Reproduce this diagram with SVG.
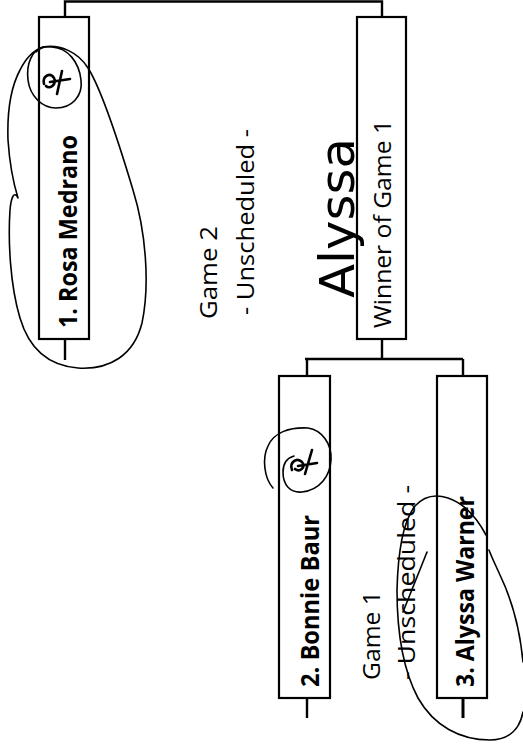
<svg xmlns="http://www.w3.org/2000/svg" width="523" height="746" viewBox="0 0 523 746">
<style>
.box{fill:#fff;stroke:#000;stroke-width:2.2}
.ln{fill:none;stroke:#000;stroke-width:2.4}
.name{font-family:"Open Sans","Liberation Sans",sans-serif;font-weight:bold;font-size:25px;fill:#000}
.reg{font-family:"Open Sans","Liberation Sans",sans-serif;font-weight:normal;font-size:24px;fill:#000}
.lt{font-family:"Open Sans","Liberation Sans",sans-serif;font-weight:normal;font-size:23px;fill:#000}
.hand{font-family:"DejaVu Sans","Liberation Sans",sans-serif;font-weight:normal;font-size:48px;fill:#000}
.ink{fill:none;stroke:#000;stroke-width:1.6;stroke-linecap:round;stroke-linejoin:round}
.inkb{fill:none;stroke:#000;stroke-width:2.6;stroke-linecap:round;stroke-linejoin:round}
</style>
<rect width="523" height="746" fill="#fff"/>
<g id="connectors">
<path class="ln" d="M65,17 V1.5 H382 V17"/>
<path class="ln" d="M65,339 V360"/>
<path class="ln" d="M382,339 V359"/>
<path class="ln" d="M305,359 H463"/>
<path class="ln" d="M307,359 V376"/>
<path class="ln" d="M463,359 V376"/>
<path class="ln" d="M307,698 V718"/>
<path class="ln" d="M463,698 V718" style="stroke-width:3"/>
</g>
<g id="node-rosa">
<rect class="box" x="39" y="17" width="50" height="322"/>
<text class="name" transform="translate(77 328) rotate(-90)" textLength="193" lengthAdjust="spacingAndGlyphs">1. Rosa Medrano</text>
</g>
<g id="node-winner">
<rect class="box" x="357" y="17" width="49" height="322"/>
<text class="reg" transform="translate(391 328) rotate(-90)" textLength="208" lengthAdjust="spacingAndGlyphs">Winner of Game 1</text>
</g>
<g id="node-bonnie">
<rect class="box" x="279" y="376" width="51" height="322"/>
<text class="name" transform="translate(319 687) rotate(-90)" textLength="172" lengthAdjust="spacingAndGlyphs">2. Bonnie Baur</text>
</g>
<g id="node-alyssa">
<rect class="box" x="437" y="376" width="50" height="322"/>
<text class="name" transform="translate(474 687) rotate(-90)" textLength="191" lengthAdjust="spacingAndGlyphs">3. Alyssa Warner</text>
</g>
<g id="game2-label">
<text class="lt" transform="translate(217 319) rotate(-90)" textLength="93" lengthAdjust="spacingAndGlyphs">Game 2</text>
<text class="lt" transform="translate(254 315) rotate(-90)" textLength="186" lengthAdjust="spacingAndGlyphs">- Unscheduled -</text>
</g>
<g id="game1-label">
<text class="lt" transform="translate(380 680) rotate(-90)" textLength="89" lengthAdjust="spacingAndGlyphs">Game 1</text>
<text class="lt" transform="translate(415 680) rotate(-90)" textLength="195" lengthAdjust="spacingAndGlyphs">- Unscheduled -</text>
</g>
<g id="annotations">
<text class="hand" transform="translate(354 298) rotate(-90)" textLength="160" lengthAdjust="spacingAndGlyphs">Alyssa</text>
<path class="ink" d="M43,47 C32,50 26,64 28,80 C30,96 42,108 56,108 C72,108 83,96 81,80 C79,62 68,48 52,47 C46,46 40,48 36,52"/>
<path class="inkb" d="M44,84 C42,76 50,72 54,78 C57,84 50,90 46,86 M50,82 L70,79 M62,71 L57,94"/>
<path class="ink" d="M43,47 C60,44 78,52 88,68 C102,90 118,140 133,190 C146,232 150,285 142,323 C134,355 110,370 78,368 C52,366 30,352 20,318 C10,285 8,240 10,210 C11,198 14,190 18,198 C14,185 10,170 8,140 C7,110 12,85 20,70 C26,58 34,50 43,47"/>
<path class="ink" d="M273,488 C264,478 262,458 268,446 C274,432 290,427 308,428 C322,430 332,444 331,460 C330,476 320,490 302,492 C290,493 283,485 283,472 C283,464 287,458 294,456"/>
<path class="inkb" d="M292,470 C289,462 297,457 302,462 C306,467 300,473 295,469 M298,466 L317,463 M312,450 L305,474"/>
<path class="ink" d="M486,535 C478,520 466,504 448,498 C436,494 424,496 415,506 C404,520 398,550 397,590 C397,630 402,668 418,698 C434,726 460,740 490,740 C510,740 520,728 523,712"/>
<path class="ink" d="M523,662 C520,630 512,600 500,575 C496,566 492,558 489,550"/>
<path class="ink" d="M427,552 L403,612"/>
</g>
</svg>
